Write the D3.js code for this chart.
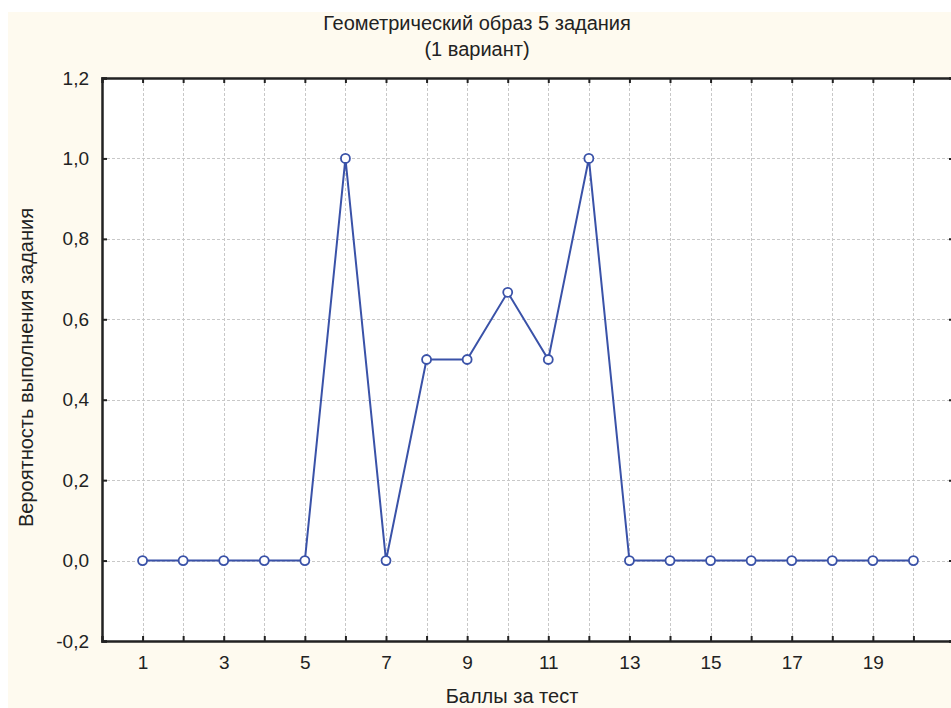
<!DOCTYPE html>
<html>
<head>
<meta charset="utf-8">
<script src="https://cdn.jsdelivr.net/npm/d3@7"></script>
<style>
  body { margin: 0; background: #fff; }
  svg { display: block; font-family: "Liberation Sans", Arial, sans-serif; }
</style>
</head>
<body>
<div id="chart"></div>
<script>
let width = 951;
let height = 708;
let margin = ({top: 78, right: -3, bottom: 67, left: 102});

// data
let scores = [1, 2, 3, 4, 5, 6, 7, 8, 9, 10, 11, 12, 13, 14, 15, 16, 17, 18, 19, 20];
let probs = [0, 0, 0, 0, 0, 1.0, 0, 0.5, 0.5, 0.667, 0.5, 1.0, 0, 0, 0, 0, 0, 0, 0, 0];
let xTickLabels = [1, 3, 5, 7, 9, 11, 13, 15, 17, 19];
let yTicks = [-0.2, 0, 0.2, 0.4, 0.6, 0.8, 1.0, 1.2];

let titleLines = ["Геометрический образ 5 задания", "(1 вариант)"];
let xTitle = "Баллы за тест";
let yTitle = "Вероятность выполнения задания";

const svg = d3.select("#chart").append("svg")
    .attr("width", width)
    .attr("height", height);

// cream background
svg.append("rect")
    .attr("x", 8).attr("y", 12)
    .attr("width", width - 8).attr("height", height - 12)
    .attr("fill", "#fefaef");

const x = d3.scaleLinear().domain([0, 21]).range([margin.left, width - margin.right]);
const y = d3.scaleLinear().domain([-0.2, 1.2]).range([height - margin.bottom, margin.top]);

const pw = x(21) - x(0);
const ph = y(-0.2) - y(1.2);

svg.append("rect")
    .attr("x", x(0)).attr("y", y(1.2))
    .attr("width", pw).attr("height", ph)
    .attr("fill", "#fff");

// grid
const grid = svg.append("g")
    .attr("stroke", "#c8c8c8")
    .attr("stroke-width", 1)
    .attr("stroke-dasharray", "3,2");

grid.selectAll("line.v").data(scores).join("line")
    .attr("class", "v")
    .attr("x1", d => Math.round(x(d)) + 0.5).attr("x2", d => Math.round(x(d)) + 0.5)
    .attr("y1", y(1.2)).attr("y2", y(-0.2));

grid.selectAll("line.h").data(yTicks.slice(1, -1)).join("line")
    .attr("class", "h")
    .attr("y1", d => Math.round(y(d)) + 0.5).attr("y2", d => Math.round(y(d)) + 0.5)
    .attr("x1", x(0)).attr("x2", x(21));

// axes with inward ticks
const gBottom = svg.append("g")
    .attr("transform", `translate(0,${y(-0.2)})`)
    .call(d3.axisBottom(x).tickValues(scores).tickSize(-5).tickPadding(15)
      .tickFormat(d => xTickLabels.includes(d) ? d : ""));

const gTop = svg.append("g")
    .attr("transform", `translate(0,${y(1.2)})`)
    .call(d3.axisTop(x).tickValues(scores).tickSize(-5).tickFormat(""));

const gLeft = svg.append("g")
    .attr("transform", `translate(${x(0)},0)`)
    .call(d3.axisLeft(y).tickValues(yTicks).tickSize(-5).tickPadding(13)
      .tickFormat(d => d3.format(".1f")(d).replace(".", ",").replace("−", "-")));

const gRight = svg.append("g")
    .attr("transform", `translate(${x(21)},0)`)
    .call(d3.axisRight(y).tickValues(yTicks).tickSize(-5).tickFormat(""));

[gBottom, gTop, gLeft, gRight].forEach(g => {
  g.select(".domain").attr("stroke", "#222").attr("stroke-width", 2.5);
  g.selectAll(".tick line").attr("stroke", "#222").attr("stroke-width", 2);
  g.selectAll("text").attr("font-size", 19).attr("fill", "#222")
    .attr("font-family", "Liberation Sans, Arial, sans-serif");
});

// line and markers
const pts = scores.map((s, i) => [s, probs[i]]);

svg.append("path")
    .datum(pts)
    .attr("fill", "none")
    .attr("stroke", "#3a52a8")
    .attr("stroke-width", 2)
    .attr("d", d3.line().x(d => x(d[0])).y(d => y(d[1])));

svg.append("g").selectAll("circle").data(pts).join("circle")
    .attr("cx", d => x(d[0]))
    .attr("cy", d => y(d[1]))
    .attr("r", 4.5)
    .attr("fill", "#fff")
    .attr("stroke", "#3a52a8")
    .attr("stroke-width", 1.8);

// titles
svg.append("g").selectAll("text").data(titleLines).join("text")
    .attr("x", 477)
    .attr("y", (d, i) => 30 + i * 26)
    .attr("text-anchor", "middle")
    .attr("font-size", 20)
    .attr("fill", "#222")
    .text(d => d);

svg.append("text")
    .attr("x", 512).attr("y", 703)
    .attr("text-anchor", "middle")
    .attr("font-size", 20)
    .attr("fill", "#222")
    .text(xTitle);

svg.append("text")
    .attr("transform", `translate(33,${(y(1.2) + y(-0.2)) / 2 + 8}) rotate(-90)`)
    .attr("text-anchor", "middle")
    .attr("font-size", 20)
    .attr("fill", "#222")
    .text(yTitle);
</script>
</body>
</html>
